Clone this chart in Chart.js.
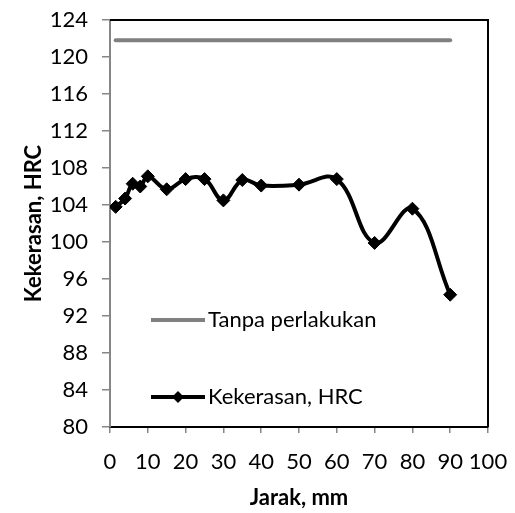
<!DOCTYPE html>
<html>
<head>
<meta charset="utf-8">
<script src="https://cdn.jsdelivr.net/npm/chart.js@4/dist/chart.umd.min.js"></script>
<style>
  html, body { margin: 0; padding: 0; background: #fff; }
  #wrap { width: 515px; height: 513px; }
</style>
</head>
<body>
<div id="wrap"><canvas id="c" width="515" height="513"></canvas></div>
<script>
// ---- data ----
const jarak = [1.5, 4, 6, 8, 10, 15, 20, 25, 30, 35, 40, 50, 60, 70, 80, 90];
const kekerasan = [103.8, 104.7, 106.3, 106.0, 107.1, 105.7, 106.8, 106.8, 104.5, 106.7, 106.1, 106.2, 106.8, 99.9, 103.6, 94.3];
const tanpaPerlakukan = [121.8, 121.8, 121.8, 121.8, 121.8, 121.8, 121.8, 121.8, 121.8, 121.8, 121.8, 121.8, 121.8, 121.8, 121.8, 121.8];
const seriesNames = ['Tanpa perlakukan', 'Kekerasan, HRC'];
const xTitle = 'Jarak, mm';
const yTitle = 'Kekerasan, HRC';

const FONT = 'Lato, "Open Sans", sans-serif';
const FS = 22;

const toPts = (xs, ys) => xs.map((x, i) => ({x: x, y: ys[i]}));

const frame = {
  id: 'frame',
  afterDraw(chart) {
    const {ctx, chartArea: a} = chart;
    ctx.save();
    ctx.strokeStyle = '#000';
    ctx.lineWidth = 2;
    ctx.beginPath();
    ctx.moveTo(a.left, a.top);
    ctx.lineTo(a.right, a.top);
    ctx.lineTo(a.right, a.bottom);
    ctx.stroke();
    ctx.restore();
  }
};

const inLegend = {
  id: 'inLegend',
  afterDraw(chart) {
    const {ctx, chartArea: a} = chart;
    const items = [
      {text: seriesNames[0], color: '#808080', marker: false, y: a.top + 300},
      {text: seriesNames[1], color: '#000000', marker: true, y: a.top + 377}
    ];
    ctx.save();
    items.forEach(it => {
      const x0 = a.left + 41, x1 = a.left + 95;
      ctx.strokeStyle = it.color;
      ctx.lineWidth = 4;
      ctx.lineCap = 'butt';
      ctx.beginPath();
      ctx.moveTo(x0, it.y);
      ctx.lineTo(x1, it.y);
      ctx.stroke();
      if (it.marker) {
        const cx = (x0 + x1) / 2, r = 6;
        ctx.fillStyle = '#000';
        ctx.beginPath();
        ctx.moveTo(cx, it.y - r);
        ctx.lineTo(cx + r, it.y);
        ctx.lineTo(cx, it.y + r);
        ctx.lineTo(cx - r, it.y);
        ctx.closePath();
        ctx.fill();
      }
      ctx.fillStyle = '#000';
      ctx.font = FS + 'px ' + FONT;
      ctx.textBaseline = 'middle';
      ctx.textAlign = 'left';
      ctx.fillText(it.text, x1 + 3, it.y);
    });
    ctx.restore();
  }
};

new Chart(document.getElementById('c'), {
  type: 'line',
  data: {
    datasets: [
      {
        label: seriesNames[0],
        data: toPts(jarak, tanpaPerlakukan),
        borderColor: '#808080',
        borderWidth: 4,
        borderCapStyle: 'round',
        pointRadius: 0,
        tension: 0,
        fill: false
      },
      {
        label: seriesNames[1],
        data: toPts(jarak, kekerasan),
        borderColor: '#000000',
        backgroundColor: '#000000',
        borderWidth: 4,
        pointStyle: 'rectRot',
        pointRadius: 6.5,
        pointBorderWidth: 1,
        pointBackgroundColor: '#000',
        pointBorderColor: '#000',
        tension: 0.4,
        fill: false
      }
    ]
  },
  plugins: [frame, inLegend],
  options: {
    responsive: false,
    animation: false,
    events: [],
    layout: { padding: { left: 0, top: 20, right: 27, bottom: 0 } },
    plugins: {
      legend: { display: false },
      tooltip: { enabled: false }
    },
    scales: {
      x: {
        type: 'linear',
        min: 0, max: 100,
        afterFit(s) { s.height = 86; s.paddingLeft = 0; s.paddingRight = 0; },
        ticks: { stepSize: 10, autoSkip: false, color: '#000', font: { family: FONT, size: FS }, padding: 16, maxRotation: 0, minRotation: 0 },
        grid: { display: true, drawOnChartArea: false, drawTicks: true, tickLength: 6, color: '#868686', lineWidth: 1.5 },
        border: { display: true, color: '#000', width: 2 },
        title: { display: true, text: xTitle, color: '#000', font: { family: FONT, size: FS, weight: 'bold' }, padding: { top: 0, bottom: 2 } }
      },
      y: {
        min: 80, max: 124,
        afterFit(s) { s.width = 110; s.paddingTop = 0; s.paddingBottom = 0; },
        ticks: { stepSize: 4, color: '#000', font: { family: FONT, size: FS }, padding: 14 },
        grid: { display: true, drawOnChartArea: false, drawTicks: true, tickLength: 8, color: '#868686', lineWidth: 1.5 },
        border: { display: true, color: '#868686', width: 2 },
        title: { display: true, text: yTitle, color: '#000', font: { family: FONT, size: FS, weight: 'bold' }, padding: { top: 21, bottom: 0 } }
      }
    }
  }
});
</script>
</body>
</html>
